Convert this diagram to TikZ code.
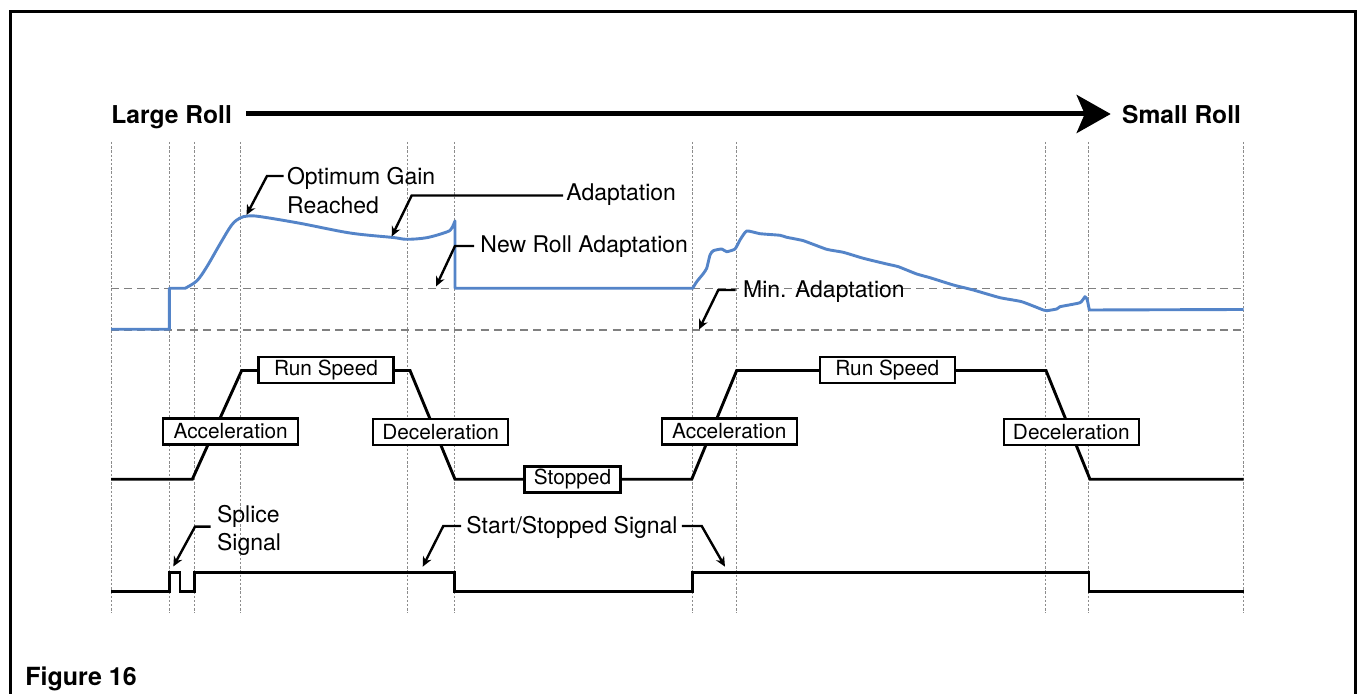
\documentclass[tikz,border=0pt]{standalone}
\usepackage{fontspec}
\setmainfont{TeX Gyre Heros}
\usetikzlibrary{arrows.meta,calc}
\definecolor{curveblue}{RGB}{84,132,200}
\begin{document}
\begin{tikzpicture}[x=0.5pt,y=-0.5pt,
  gridline/.style={black!45, line width=0.45pt, dash pattern=on 1.2pt off 0.9pt},
  refline/.style={black!50, line width=0.7pt, dash pattern=on 4pt off 2.6pt},
  trace/.style={black, line width=1.45pt, line join=miter},
  adapt/.style={curveblue, line width=1.45pt, line join=round},
  callout/.style={black, line width=1.2pt, -{Stealth[length=5pt,width=4.6pt]}},
  lbl/.style={font=\fontsize{11.5}{14.2}\selectfont, inner sep=0pt, align=left},
  phase/.style={draw, fill=white, line width=1.1pt, font=\fontsize{10.4}{12}\selectfont,
                minimum width=67.5pt, minimum height=13pt, inner sep=0pt},
  ttl/.style={font=\bfseries\fontsize{12.3}{14}\selectfont, inner sep=0pt}]
\useasboundingbox (0,0) rectangle (1361,694);
\fill[white] (0,0) rectangle (1361,694);
% frame
\draw[line width=1.5pt] (10,694) -- (10,11.7) -- (1355,11.7) -- (1355,694);

% grid lines
\foreach \x in {111.5,169.3,194.3,240.3,407.5,454.7,692.5,736.5,1045.7,1088.7,1243.5}
  \draw[gridline] (\x,142) -- (\x,613);
\draw[refline] (111,288.3) -- (1243.5,288.3);
\draw[refline] (111,330) -- (1243.5,330);

% titles
\node[ttl, anchor=base west] (large) at (111,124) {Large Roll};
\node[ttl, anchor=base west] (small) at (1121.7,124) {Small Roll};
\coordinate (arrY) at (0,114);
\draw[line width=2.5pt, -{Stealth[length=17pt,width=19pt,inset=4pt]}]
  (large.east |- arrY) ++(14,0) -- ($(small.west |- arrY)+(-11,0)$);
\node[ttl, anchor=base west, font=\bfseries\fontsize{12.5}{14}\selectfont] (fig) at (25,686) {Figure 16};

% adaptation curve
\draw[adapt] (111,329.3) -- (169.3,329.3) -- (169.3,288.3) -- (185,288.3)
  -- plot[smooth, tension=0.55] coordinates {(185,288.3) (196.7,281) (206.7,267) (220,244) (231.7,225) (240,218) (248,216) (260,216.6) (300,223.3) (350,233) (393,237.5) (406.7,239.3) (426.7,237.7) (446.7,232) (451.5,228.5) (455,221)}
  -- (455,288.3) -- (692.7,288.3)
  -- plot[smooth, tension=0.3] coordinates {(692.7,288.3) (696.7,281.7) (703,274) (706.7,268.3) (710,255) (713.3,250.7) (721.7,249) (726.7,251.7) (735,249) (740,240) (746.7,231) (760,233.7) (780,235.3) (786.7,237.3) (803.3,240.7) (826.7,249.3) (843.3,252.3) (863.3,258.3) (886.7,264) (898.3,266.7) (916.7,274) (930,277.7) (953.3,285) (973.3,290) (1000,297.7) (1021.7,301.7) (1043.3,310) (1046.7,310.7) (1056.7,309) (1060,306.7) (1080,302.7) (1085,296.7) (1087.3,300) (1089.3,310)}
  -- (1243.5,309.5);

% speed trace
\draw[trace] (111,479.3) -- (192.3,479.3) -- (241.7,370.5) -- (410,370.5) -- (455,479.3)
  -- (691.7,479.3) -- (736.7,370.5) -- (1046,370.5) -- (1090,479.3) -- (1243.5,479.3);
\node[phase] (acc1) at (230.7,431.5) {Acceleration};
\node[phase] (run1) at (326,370) {Run Speed};
\node[phase] (dec1) at (440.7,432) {Deceleration};
\node[phase, minimum width=48pt] (stop) at (572.5,479.5) {Stopped};
\node[phase] (acc2) at (729.3,431.5) {Acceleration};
\node[phase] (run2) at (887.3,370) {Run Speed};
\node[phase] (dec2) at (1071.3,432) {Deceleration};

% signal trace
\draw[trace] (111,591.7) -- (169.3,591.7) -- (169.3,572.7) -- (180,572.7) -- (180,591.7)
  -- (194.3,591.7) -- (194.3,572.7) -- (454.5,572.7) -- (454.5,591.7) -- (692.3,591.7)
  -- (692.3,572.7) -- (1089,572.7) -- (1089,591.7) -- (1243.5,591.7);

% callout labels (base anchor = last line)
\node[lbl, anchor=base west] (og) at (286.7,213.3) {Optimum Gain\\Reached};
\node[lbl, anchor=base west] (ad) at (566,200.7) {Adaptation};
\node[lbl, anchor=base west] (nr) at (480,252.7) {New Roll Adaptation};
\node[lbl, anchor=base west] (mn) at (742.7,297.3) {Min. Adaptation};
\node[lbl, anchor=base west] (sp) at (216.7,550.5) {Splice\\Signal};
\node[lbl, anchor=base west] (ss) at (466,534) {Start/Stopped Signal};

\coordinate (ogK) at (267,176);   \coordinate (ogT) at (246.5,215);
\coordinate (adK) at (411.7,195.5); \coordinate (adT) at (391.7,236.5);
\coordinate (nrK) at (455,246);   \coordinate (nrT) at (436,286.5);
\coordinate (mnK) at (718.3,290); \coordinate (mnT) at (699,329.5);
\coordinate (spK) at (195,526.7); \coordinate (spT) at (173.3,566.5);
\coordinate (ssKl) at (443.3,526); \coordinate (ssTl) at (422.7,566.7);
\coordinate (ssKr) at (701.7,526); \coordinate (ssTr) at (725,566.7);

\draw[callout] (og.west |- ogK) ++(-3,0) -- (ogK) -- (ogT);
\draw[callout] (ad.west |- adK) ++(-3,0) -- (adK) -- (adT);
\draw[callout] (nr.west |- nrK) ++(-6,0) -- (nrK) -- (nrT);
\draw[callout] (mn.west |- mnK) ++(-7,0) -- (mnK) -- (mnT);
\draw[callout] (sp.west |- spK) ++(-6,0) -- (spK) -- (spT);
\draw[callout] (ss.west |- ssKl) ++(-5,0) -- (ssKl) -- (ssTl);
\draw[callout] (ss.east |- ssKr) ++(4,0) -- (ssKr) -- (ssTr);
\end{tikzpicture}
\end{document}
